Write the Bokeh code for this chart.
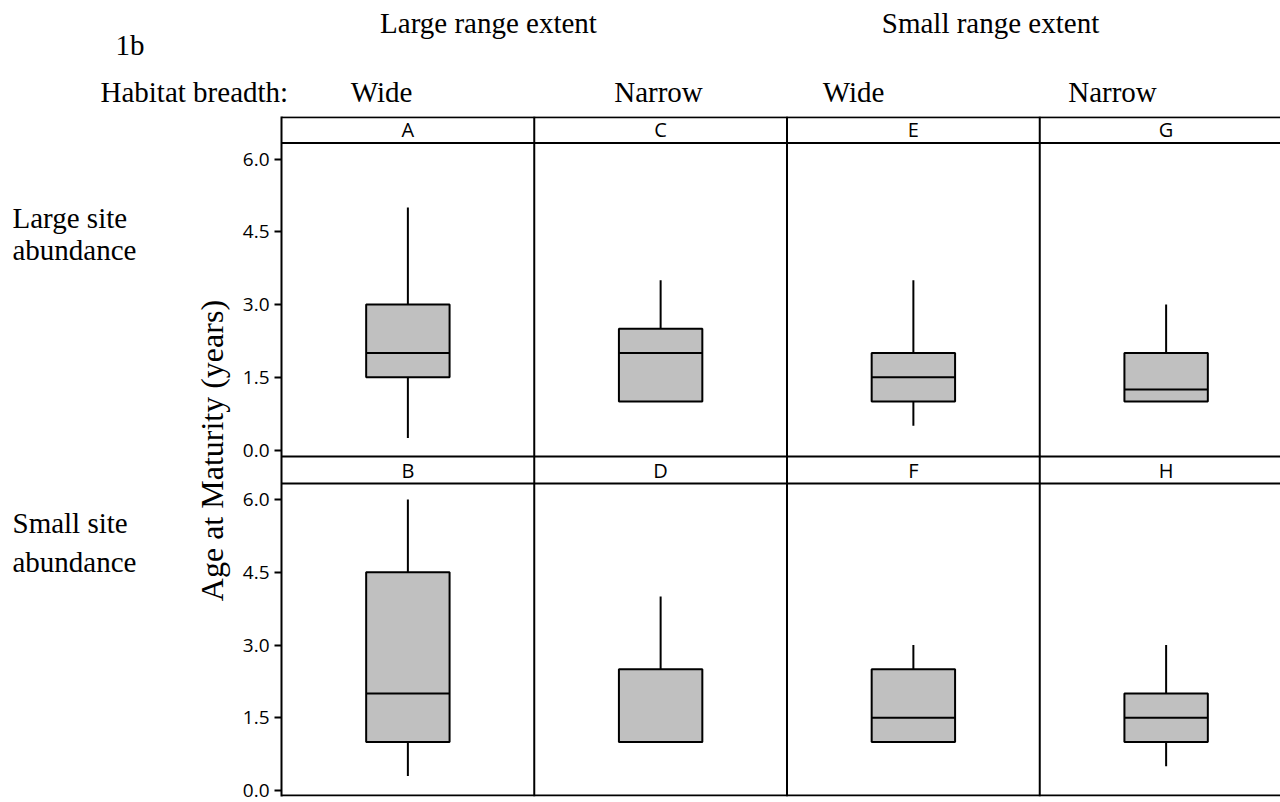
from bokeh.plotting import figure
from bokeh.layouts import column, row
from bokeh.models import (Range1d, FixedTicker, CustomJSTickFormatter, Span, Label,
                          ColumnDataSource)
from bokeh.embed import file_html
from bokeh.resources import INLINE

# ---------------- data ----------------
top_groups = ["A", "C", "E", "G"]          # Large site abundance
top_min = [0.25, 1.0, 0.5, 1.0]
top_q1 = [1.5, 1.0, 1.0, 1.0]
top_med = [2.0, 2.0, 1.5, 1.25]
top_q3 = [3.0, 2.5, 2.0, 2.0]
top_max = [5.0, 3.5, 3.5, 3.0]

bottom_groups = ["B", "D", "F", "H"]       # Small site abundance
bottom_min = [0.3, 1.0, 1.0, 0.5]
bottom_q1 = [1.0, 1.0, 1.0, 1.0]
bottom_med = [2.0, 1.0, 1.5, 1.5]
bottom_q3 = [4.5, 2.5, 2.5, 2.0]
bottom_max = [6.0, 4.0, 3.0, 3.0]

y_ticks = [0.0, 1.5, 3.0, 4.5, 6.0]
habitat_title = "Habitat breadth:"
habitat_labels = ["Wide", "Narrow", "Wide", "Narrow"]
extent_labels = ["Large range extent", "Small range extent"]
row_labels = ["Large site", "abundance", "Small site", "abundance"]
panel_tag = "1b"
y_title = "Age at Maturity (years)"

# ---------------- layout constants (page pixels) ----------------
W, H = 1280, 802
HEAD_H = 114            # header strip height
LEFT_W = 236            # width of left label area
AXIS_W = 45             # y-axis border inside main figure
FRAME_TOP, FRAME_BOTTOM = 116, 796
COL = 252.75            # px per column
UNIT = 48.5             # px per year
Y0_BOTTOM = 790.0       # page px of 0 in the lower row
Y0_TOP = 449.5          # page px of 0 in the upper row
OFF = round((Y0_BOTTOM - Y0_TOP) / UNIT, 4)
STRIP_LO, STRIP_MID = 6.33, 6.6
BOX_W = 0.33
SERIF = "Liberation Serif"
SANS = "Open Sans"
SERIF_SIZE = "29px"

FRAME_LEFT = LEFT_W + AXIS_W
y_lo = -(FRAME_BOTTOM - Y0_BOTTOM) / UNIT
y_hi = y_lo + (FRAME_BOTTOM - FRAME_TOP) / UNIT
x_hi = (W - FRAME_LEFT) / COL


def yb(px):
    return (Y0_BOTTOM - px) / UNIT


def yt(px):
    return (Y0_TOP - px) / UNIT


def blank_fig(w, h, page_top):
    f = figure(width=w, height=h, output_backend="svg", toolbar_location=None,
               title=None, x_axis_location=None, y_axis_location=None,
               x_range=Range1d(0, w), y_range=Range1d(H - page_top - h, H - page_top),
               min_border=0)
    f.outline_line_color = None
    f.grid.visible = False
    return f


def serif_labels(f, xs, ys, texts, align="left", size=SERIF_SIZE, angle=0.0):
    # ys are page pixel positions of the text's vertical middle
    for x, y, t in zip(xs, ys, texts):
        f.add_layout(Label(x=x, y=H - y, text=t, text_font=SERIF,
                           text_font_size=size, text_align=align,
                           text_baseline="middle", text_color="black", angle=angle))


# ---------------- header ----------------
head = blank_fig(W, HEAD_H, 0)
serif_labels(head, [488, 990], [22, 22], extent_labels, align="center")
serif_labels(head, [115], [44], [panel_tag])
serif_labels(head, [100], [91], [habitat_title])
serif_labels(head, [381, 658, 853, 1112], [91] * 4, habitat_labels, align="center")

# ---------------- left labels ----------------
left = blank_fig(LEFT_W, H - HEAD_H, HEAD_H)
serif_labels(left, [12, 12, 12, 12], [217, 249, 525, 565], row_labels)
serif_labels(left, [211], [452], [y_title], align="center", size="32px", angle=1.5707963)

# ---------------- main panels ----------------
p = figure(width=W - LEFT_W, height=H - HEAD_H, output_backend="svg",
           toolbar_location=None, title=None, x_axis_location=None,
           x_range=Range1d(0, x_hi), y_range=Range1d(y_lo, y_hi),
           min_border_left=AXIS_W, min_border_right=0,
           min_border_top=FRAME_TOP - HEAD_H, min_border_bottom=H - FRAME_BOTTOM)
p.extra_y_ranges = {"top": Range1d(y_lo - OFF, y_hi - OFF)}
p.outline_line_color = None
p.grid.visible = False

ax = p.yaxis[0]
ax.ticker = FixedTicker(ticks=y_ticks + [round(t + OFF, 4) for t in y_ticks])
ax.formatter = CustomJSTickFormatter(args=dict(off=OFF), code="""
    const v = tick > 6.6 ? tick - off : tick;
    return v.toFixed(1);
""")
ax.axis_line_width = 2
ax.axis_line_color = "black"
ax.major_tick_line_width = 2
ax.major_tick_out = 7
ax.major_tick_in = 0
ax.minor_tick_line_color = None
ax.major_label_text_font = SANS
ax.major_label_text_font_size = "19px"
ax.major_label_text_color = "black"
ax.major_label_standoff = 5


def draw_row(groups, lo, q1, med, q3, hi, rn):
    xs = [i + 0.5 for i in range(len(groups))]
    src = ColumnDataSource(dict(x=xs, lo=lo, q1=q1, med=med, q3=q3, hi=hi,
                                xl=[x - BOX_W / 2 for x in xs],
                                xr=[x + BOX_W / 2 for x in xs]))
    kw = dict(source=src, y_range_name=rn, line_color="black", line_width=2)
    p.segment(x0="x", y0="q3", x1="x", y1="hi", **kw)
    p.segment(x0="x", y0="lo", x1="x", y1="q1", **kw)
    p.vbar(x="x", width=BOX_W, bottom="q1", top="q3", fill_color="#c0c0c0", **kw)
    p.segment(x0="xl", y0="med", x1="xr", y1="med", **kw)
    for x, g in zip(xs, groups):
        p.add_layout(Label(x=x, y=STRIP_MID, y_range_name=rn, text=g,
                           text_font=SANS, text_font_size="20px",
                           text_align="center", text_baseline="middle",
                           text_color="black"))
    p.add_layout(Span(location=STRIP_LO, dimension="width", y_range_name=rn,
                      line_color="black", line_width=2))


draw_row(top_groups, top_min, top_q1, top_med, top_q3, top_max, "top")
draw_row(bottom_groups, bottom_min, bottom_q1, bottom_med, bottom_q3, bottom_max, "default")

# frame lines
for k in (1, 2, 3):
    p.add_layout(Span(location=k, dimension="height", line_color="black", line_width=2))
p.add_layout(Span(location=yb(456), dimension="width", line_color="black", line_width=2))
p.add_layout(Span(location=yt(116.8), dimension="width", y_range_name="top",
                  line_color="black", line_width=2))
p.add_layout(Span(location=yb(795), dimension="width", line_color="black", line_width=2))

layout = column(head, row(left, p))
open("out.html", "w").write(file_html(layout, INLINE))
